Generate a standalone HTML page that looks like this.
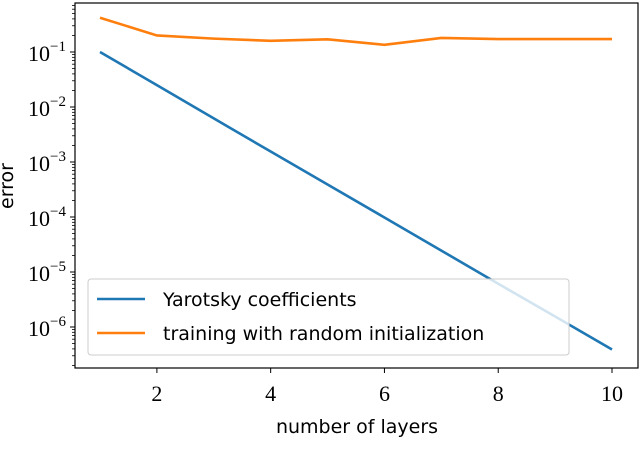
<!DOCTYPE html>
<html><head><meta charset="utf-8"><style>
body{margin:0;background:#fff;}
svg{display:block;}
</style></head><body>
<svg id="chart" width="640" height="456" xmlns="http://www.w3.org/2000/svg"></svg>
<script>
const layers=[1,2,3,4,5,6,7,8,9,10];
const yarotsky=[1e-1,2.5e-2,6.2e-3,1.55e-3,3.9e-4,9.8e-5,2.45e-5,6.1e-6,1.55e-6,3.9e-7];
const training=[0.42,0.2,0.175,0.16,0.17,0.135,0.18,0.172,0.172,0.172];
const xTicks=[2,4,6,8,10];
const yTickExp=[-1,-2,-3,-4,-5,-6];
const legendLabels=["Yarotsky coefficients","training with random initialization"];

const NS="http://www.w3.org/2000/svg";
const svg=document.getElementById('chart');
const L=75,R=638,T=3,B=368;
function xs(v){return 100+(v-1)*(612-100)/9;}
function ys(v){return 52+(-1-Math.log10(v))*55;}
function mk(tag,attrs,parent){const e=document.createElementNS(NS,tag);for(const k in attrs)e.setAttribute(k,attrs[k]);(parent||svg).appendChild(e);return e;}

const frame=mk('rect',{x:L,y:T,width:R-L,height:B-T,fill:'none',stroke:'#000','stroke-width':1.2});



xTicks.forEach(t=>{
  const x=xs(t);
  const tk=mk('line',{x1:x,y1:B,x2:x,y2:B+5,stroke:'#000'});
  
  
  const tx=mk('text',{x:x,y:B+33,'text-anchor':'middle','font-family':'Liberation Serif, serif','font-size':22});
  tx.textContent=t;
  
  
});
yTickExp.forEach(e=>{
  const y=ys(Math.pow(10,e));
  const tk=mk('line',{x1:L-5,y1:y,x2:L,y2:y,stroke:'#000'});
  
  
  const tx=mk('text',{x:L-9,y:y+9,'text-anchor':'end','font-family':'Liberation Serif, serif','font-size':22});
  tx.textContent='10';
  const sp=mk('tspan',{dy:-10,'font-size':15},tx);
  sp.textContent='\u2212'+(-e);
  
  
});
for(let e=0;e>=-7;e--){for(let m=2;m<=9;m++){const v=m*Math.pow(10,e-1);const y=ys(v);if(y>T&&y<B){const mt=mk('line',{x1:L-3,y1:y,x2:L,y2:y,stroke:'#000','stroke-width':0.8});

}}}

function series(vals,color,name){
  const p=mk('polyline',{points:layers.map((l,i)=>xs(l)+','+ys(vals[i])).join(' '),fill:'none',stroke:color,'stroke-width':2.6});
  
  
}
series(yarotsky,'#1f77b4','yarotsky-line');
series(training,'#ff7f0e','training-line');

const lg=mk('g',{});


mk('rect',{x:88,y:279,width:481,height:76,rx:3,fill:'#fff','fill-opacity':0.8,stroke:'#ccc'},lg);
const cols=['#1f77b4','#ff7f0e'];
legendLabels.forEach((s,i)=>{
  const y=299+i*34;
  const ln=mk('line',{x1:97,y1:y,x2:145,y2:y,stroke:cols[i],'stroke-width':2.6},lg);
  
  
  const t=mk('text',{x:163,y:y+7,'font-family':'DejaVu Sans, sans-serif','font-size':19},lg);
  t.textContent=s;
  
  
});

const xl=mk('text',{x:357,y:433,'text-anchor':'middle','font-family':'DejaVu Sans, sans-serif','font-size':19});
xl.textContent='number of layers';


const yl=mk('text',{x:0,y:0,transform:'translate(13,186) rotate(-90)','text-anchor':'middle','font-family':'DejaVu Sans, sans-serif','font-size':19});
yl.textContent='error';


</script>
</body></html>
